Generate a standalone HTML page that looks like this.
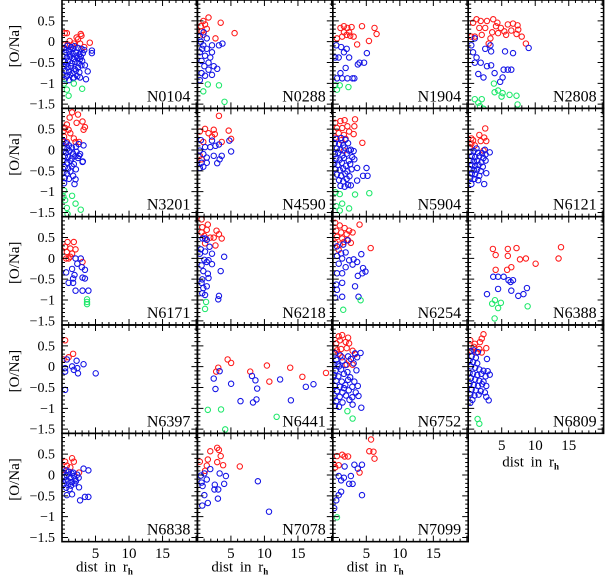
<!DOCTYPE html>
<html><head><meta charset="utf-8"><style>
html,body{margin:0;padding:0;background:#fff;}
svg{display:block;}
text{font-family:"Liberation Serif",serif;fill:#000;}
</style></head><body>
<svg id="chart" width="605" height="581" viewBox="0 0 605 581" xmlns="http://www.w3.org/2000/svg"></svg>
<script>
// ---- data: [dist in r_h, [O/Na]] per cluster, split into red / blue / green groups ----
const clusterNames = ["N0104","N0288","N1904","N2808","N3201","N4590","N5904","N6121","N6171","N6218","N6254","N6388","N6397","N6441","N6752","N6809","N6838","N7078","N7099"];
const xTicks = [5,10,15];
const yTicks = [0.5,0,-0.5,-1,-1.5];
const yTickLabels = ["0.5","0","\u22120.5","\u22121","\u22121.5"];

const n0104_red = [[0.4,0.24],[0.7,0.24],[2.7,0.22],[2.8,0.18],[2.1,0.14],[1.1,0.06],[0.4,-0.02],[1.7,0],[2.6,0],[4,0.02],[3.2,-0.08],[1.45,-0.04],[0.8,-0.02],[2.3,0.1]];
const n0104_blue = [[0.3,-0.1],[0.8,-0.05],[1.3,-0.08],[1.8,-0.06],[2.3,-0.1],[2.8,-0.12],[3.2,-0.15],[0.5,-0.2],[1,-0.18],[1.5,-0.22],[2,-0.2],[2.5,-0.25],[3,-0.22],[0.2,-0.3],[0.7,-0.32],[1.2,-0.3],[1.7,-0.35],[2.2,-0.33],[2.7,-0.3],[0.4,-0.42],[0.9,-0.4],[1.4,-0.45],[1.9,-0.42],[2.4,-0.45],[2.9,-0.4],[0.3,-0.52],[0.8,-0.55],[1.3,-0.52],[1.8,-0.58],[2.3,-0.55],[2.8,-0.5],[3.3,-0.5],[0.5,-0.63],[1,-0.65],[1.5,-0.68],[2,-0.62],[2.5,-0.66],[0.2,-0.72],[0.7,-0.75],[1.2,-0.72],[1.7,-0.78],[2.2,-0.75],[0.4,-0.82],[1,-0.84],[1.6,-0.8],[2.6,-0.78],[4.3,-0.16],[4.3,-0.22],[3.7,-0.64],[3.45,-0.82],[0.6,-0.15],[1.1,-0.25],[2.1,-0.28],[1.6,-0.12],[0.6,-0.48],[2.6,-0.36]];
const n0104_green = [[0.3,-0.92],[1.7,-0.92],[0.7,-1.06],[0.95,-1.2],[2.9,-1.04]];

const n0288_red = [[1.6,0.6],[0.85,0.52],[1.1,0.44],[3.35,0.48],[5.35,0.24],[1.35,0.34],[0.6,0.28],[0.85,0.2],[2.6,0.12],[0.5,0.4]];
const n0288_blue = [[0.9,0.26],[0.35,0.16],[1.35,0.12],[0.85,-0.04],[2.1,-0.04],[3.1,-0.04],[3.6,0],[0.35,-0.2],[1.1,-0.28],[1.85,-0.32],[0.6,-0.4],[1.6,-0.44],[2.35,-0.52],[2.85,-0.58],[0.6,-0.68],[1.1,-0.74],[0.35,-0.84],[2.1,-0.72],[1.35,-0.12],[0.5,0.04],[1.0,-0.52],[1.6,-0.6],[0.7,-0.12],[2.1,-0.2]];
const n0288_green = [[1.5,-0.94],[3.1,-0.96],[0.85,-1.1],[3.9,-1.34]];

const n1904_red = [[1.1,0.36],[1.6,0.4],[2.1,0.36],[2.7,0.38],[4.2,0.4],[6,0.36],[6.3,0.22],[0.6,0.12],[1.35,0.16],[2,0.2],[2.5,0.18],[3,0.16],[3.5,-0.02],[5.2,0.06],[1.6,0.26],[2.35,0.26]];
const n1904_blue = [[0.5,-0.04],[1.2,-0.08],[2,-0.12],[0.35,-0.32],[0.85,-0.32],[2.35,-0.32],[1.6,-0.2],[4.9,-0.22],[1.85,-0.56],[1.1,-0.68],[3.6,-0.48],[3.85,-0.44],[4.5,-0.44],[0.6,-0.8],[1.35,-0.8],[2.1,-0.8],[2.85,-0.8],[3.1,-0.8]];
const n1904_green = [[0.35,-0.96],[1,-0.96],[0.6,-1.06],[2.25,-1]];

const n2808_red = [[1.2,0.56],[1.8,0.52],[0.7,0.48],[2.7,0.52],[3.6,0.56],[4.2,0.48],[5.7,0.44],[6.45,0.46],[7.1,0.42],[4.7,0.36],[5.2,0.28],[6.2,0.3],[6.95,0.22],[7.7,0.16],[3.45,0.26],[2.45,0.36],[1.6,0.36],[1.95,0.2],[0.95,0.16],[0.45,0.16],[3.2,0.12],[4.3,0.24],[8.3,0],[2.95,0],[4,0.4],[5.45,0.2],[7.2,0.32]];
const n2808_blue = [[0.95,0.12],[0.45,-0.04],[0.7,-0.2],[1.2,-0.32],[1.8,-0.44],[2.45,-0.12],[3.2,-0.04],[3.3,-0.18],[2.7,-0.52],[3.3,-0.5],[1.45,-0.7],[2.2,-0.78],[3.8,-0.68],[5.3,-0.18],[6.45,-0.22],[8.7,-0.1],[5.1,-0.6],[5.7,-0.6],[6.2,-0.6],[4.95,-0.78],[4.6,-0.88],[0.95,-0.44]];
const n2808_green = [[3.7,-0.92],[3.8,-1.12],[4.3,-1.08],[4.95,-1.14],[5.95,-1.18],[6.95,-1.2],[4.8,-1.22],[0.95,-1.28],[1.95,-1.28],[1.45,-1.36],[1.7,-1.44],[2.2,-1.5],[7.1,-1.4]];

const n3201_red = [[1.45,0.91],[2.3,0.86],[1.1,0.79],[2.1,0.67],[2.95,0.7],[3.3,0.57],[3.1,0.51],[0.7,0.63],[0.45,0.55],[0.95,0.51],[1.2,0.43],[0.3,0.35],[1.7,0.31],[1.95,0.23],[0.7,0.23],[2.45,0.23],[0.2,0.47]];
const n3201_blue = [[0.2,0.25],[0.6,0.2],[1,0.15],[0.3,0.1],[0.8,0.08],[1.4,0.1],[2,0.12],[2.4,0.18],[0.2,0],[0.6,-0.02],[1.1,0.02],[1.6,-0.04],[2.1,0],[2.6,-0.05],[0.4,-0.1],[0.9,-0.12],[1.4,-0.15],[1.9,-0.1],[2.3,-0.14],[3,-0.22],[0.2,-0.22],[0.7,-0.25],[1.2,-0.2],[1.7,-0.28],[0.4,-0.35],[0.9,-0.38],[1.4,-0.33],[2,-0.4],[0.2,-0.48],[0.7,-0.5],[1.2,-0.45],[1.6,-0.55],[0.4,-0.6],[1,-0.62],[1.95,-0.63],[1.8,-0.74],[0.3,-0.72],[2.45,-0.09],[3.1,0.15],[2.95,-0.23]];
const n3201_green = [[0.3,-0.89],[1.45,-1.01],[0.45,-1.11],[1.95,-1.19],[2.7,-1.33],[0.7,-1.29],[0.8,-1.43],[0.2,-1.03]];

const n4590_red = [[3.1,0.83],[0.35,0.47],[1.1,0.53],[1.6,0.43],[2.35,0.51],[2.5,0.41],[4.5,0.49],[4.85,0.3],[2.1,0.35],[0.85,0.23],[3.5,0.23],[0.6,-0.17],[0.35,-0.09]];
const n4590_blue = [[0.5,0.27],[2.1,0.26],[4.6,0.26],[1.1,0.11],[1.85,0.11],[2.6,0.14],[3.1,0.17],[0.35,0.03],[0.85,-0.05],[1.35,-0.13],[2.35,-0.09],[3.5,-0.09],[4.85,0.01],[0.6,-0.25],[1.35,-0.25],[2.85,-0.26],[3.2,-0.17],[0.35,-0.37],[0.85,-0.34]];
const n4590_green = [];

const n5904_red = [[0.35,0.67],[1.1,0.71],[1.7,0.73],[3.2,0.75],[3.1,0.59],[3,0.41],[4.25,0.21],[0.6,0.55],[1.35,0.55],[2.1,0.59],[0.85,0.43],[1.6,0.39],[2.35,0.47],[0.35,0.33],[1.2,0.27],[1.85,0.3],[1.6,0.03]];
const n5904_blue = [[0.5,0.3],[1.2,0.32],[1.8,0.28],[0.3,0.2],[0.9,0.18],[1.5,0.15],[2.2,0.2],[0.6,0.08],[1.1,0.05],[1.7,0.1],[2.6,0.05],[0.3,-0.05],[0.8,-0.02],[1.4,-0.08],[2,-0.04],[3,0.02],[0.5,-0.15],[1,-0.18],[1.6,-0.14],[2.3,-0.2],[2.8,-0.12],[0.2,-0.27],[0.7,-0.3],[1.3,-0.25],[1.9,-0.32],[2.5,-0.28],[0.4,-0.4],[1,-0.42],[1.5,-0.38],[2.1,-0.45],[2.7,-0.4],[0.6,-0.52],[1.2,-0.55],[1.8,-0.5],[2.4,-0.56],[0.9,-0.65],[1.5,-0.68],[2,-0.62],[1.1,-0.78],[1.7,-0.8],[2.2,-0.76],[3.5,-0.37],[4.85,-0.37],[5,-0.55],[4.35,-0.55],[3.5,-0.66],[2.6,-0.77],[3.1,-0.17],[2.35,0.03]];
const n5904_green = [[0.4,-0.93],[1,-0.97],[3.2,-0.98],[5.25,-0.95],[0.5,-1.25],[1.35,-1.19],[2.35,-1.3],[1,-1.35]];

const n6121_red = [[0.45,0.31],[0.7,0.27],[0.45,0.19],[0.95,0.15],[1.6,0.39],[2.3,0.33],[2.6,0.25],[1.8,0.25],[2.45,0.54],[2.2,0.03],[0.2,0.11]];
const n6121_blue = [[0.3,0],[0.8,0.02],[1.4,-0.02],[2,-0.03],[2.5,-0.06],[0.5,-0.1],[1,-0.12],[1.6,-0.1],[2.2,-0.14],[0.3,-0.2],[0.8,-0.22],[1.3,-0.2],[1.9,-0.24],[2.5,-0.2],[0.5,-0.3],[1,-0.32],[1.5,-0.3],[2.1,-0.34],[0.3,-0.4],[0.8,-0.42],[1.3,-0.4],[1.8,-0.44],[0.5,-0.5],[1,-0.52],[1.6,-0.55],[0.3,-0.6],[0.9,-0.62],[3.1,-0.01],[2.6,-0.49],[2.3,-0.74],[0.45,-0.74],[1.45,-0.65],[2.4,0.05],[1.2,0.08]];
const n6121_green = [];

const n6171_red = [[0.8,0.42],[1.7,0.42],[0.45,0.31],[1.2,0.27],[1.95,0.25],[0.7,0.19],[1.45,0.15],[0.95,0.04],[2.95,-0.04],[0.6,0.04],[1.2,0.08]];
const n6171_blue = [[1.95,0.04],[2.7,0.04],[2.2,-0.08],[2.85,-0.16],[3.3,-0.22],[1.45,-0.2],[0.6,-0.28],[1.8,-0.34],[1.6,-0.42],[2.95,-0.4],[3.3,-0.42],[0.95,-0.52],[1.6,-0.52],[1.95,-0.7],[2.95,-0.7],[3.8,-0.7]];
const n6171_green = [[3.6,-0.9],[3.6,-0.96],[3.6,-1.01]];

const n6218_red = [[0.6,0.94],[1.5,0.82],[0.7,0.76],[1.35,0.7],[0.6,0.64],[2.75,0.68],[3.1,0.6],[3.5,0.5],[1,0.56],[1.85,0.52],[2.35,0.52],[2.6,0.34],[1.1,0.39]];
const n6218_blue = [[0.75,0.5],[1.1,0.5],[1.35,0.47],[1.75,0.31],[0.5,0.25],[1.1,0.2],[3.85,0.08],[1,0.01],[1.6,0],[1.35,-0.04],[2.1,-0.09],[0.6,-0.12],[0.85,-0.25],[3.35,-0.25],[1.5,-0.31],[0.7,-0.44],[1.6,-0.41],[0.6,-0.52],[0.85,-0.64],[1.35,-0.6],[1.1,-0.8],[0.7,-0.76],[3.1,-0.82],[3,-0.9],[2.1,0.15],[0.35,0.15]];
const n6218_green = [[1.25,-0.96],[1.1,-1.12]];

const n6254_red = [[0.35,0.86],[1,0.8],[1.7,0.74],[2.35,0.68],[2.85,0.64],[3.85,0.82],[0.5,0.68],[1.2,0.64],[2,0.6],[0.6,0.54],[1.35,0.5],[2.2,0.46],[0.35,0.4],[1,0.36],[2.6,0.4],[5.45,0.28],[1.6,0.42],[0.85,0.24]];
const n6254_blue = [[0.6,0.32],[1.5,0.36],[2.1,0.46],[1.2,0.16],[1.85,0.18],[4.1,0.14],[0.6,0.1],[1.35,0.04],[2.35,0],[3,0.02],[3.5,-0.04],[0.85,-0.08],[1.85,-0.16],[4.35,-0.18],[4.7,-0.26],[4.25,-0.3],[0.6,-0.3],[1.35,-0.3],[3.6,-0.36],[1.35,-0.52],[0.5,-0.56],[3.2,-0.6],[0.6,-0.68],[0.35,-0.86],[1.35,-0.84],[3.7,-0.84],[2.85,-0.1]];
const n6254_green = [[4,-0.92],[1.5,-1.14]];

const n6388_red = [[3.55,0.26],[3.95,0.12],[5.7,0.26],[5.7,0.1],[6.95,0.28],[7.45,0.02],[8.3,0.04],[9.7,-0.08],[13.35,0.3],[13,0.04],[3.95,-0.22],[5.6,-0.22],[6.2,-0.16]];
const n6388_blue = [[3.6,-0.38],[4.3,-0.38],[5.1,-0.38],[5.8,-0.46],[6.45,-0.46],[6.2,-0.7],[4.3,-0.66],[2.7,-0.78],[7.2,-0.82],[7.95,-0.78],[8.45,-0.64],[6.1,-0.5]];
const n6388_green = [[3.85,-0.92],[3.45,-1],[4.3,-1.1],[4.7,-0.98],[8.55,-1.06],[3.8,-1.34]];

const n6397_red = [[0.45,0.65],[1.6,0.34],[0.95,0.26],[0.2,0.21]];
const n6397_blue = [[0.7,0.21],[2.1,0.18],[3.1,0.1],[1.45,0.05],[0.45,0.01],[1.7,-0.03],[2.2,0.01],[2.3,-0.11],[0.45,-0.07],[4.85,-0.11],[0.45,-0.49]];
const n6397_green = [];

const n6441_red = [[4.35,0.21],[4.85,0.13],[3,0.02],[2.7,-0.07],[7.6,-0.07],[10,0.07],[13.35,0.02],[10.35,-0.3],[15.1,-0.19],[18.5,-0.1]];
const n6441_blue = [[3.2,-0.06],[2.35,-0.23],[7.85,-0.17],[8.35,-0.27],[8.6,-0.46],[11.9,-0.25],[4.85,-0.35],[2.6,-0.47],[15.6,-0.42],[16.7,-0.36],[6.2,-0.75],[8,-0.78],[8.5,-0.71],[13.45,-0.73]];
const n6441_green = [[1.5,-0.95],[3.4,-0.94],[11.4,-1.11],[4,-1.4]];

const n6752_red = [[0.85,0.74],[1.35,0.77],[2.2,0.71],[0.5,0.58],[1,0.65],[1.85,0.61],[2.35,0.58],[0.6,0.42],[1.2,0.45],[2,0.47],[2.85,0.41],[3.2,0.33],[0.35,0.47],[1.35,0.26],[2.35,0.17],[2.85,0.09],[2,0.09],[0.85,0.34]];
const n6752_blue = [[0.3,0.35],[1.1,0.3],[2.2,0.28],[3.2,0.35],[0.5,0.2],[1.4,0.18],[2.6,0.22],[0.2,0.1],[0.9,0.05],[1.8,0.08],[3,0.12],[0.4,-0.05],[1.2,-0.02],[2.1,-0.08],[3.4,-0.04],[0.2,-0.15],[0.8,-0.18],[1.6,-0.12],[2.5,-0.2],[0.5,-0.28],[1.3,-0.3],[2.2,-0.26],[3.1,-0.3],[0.3,-0.4],[1,-0.42],[1.8,-0.38],[2.8,-0.42],[3.6,-0.4],[0.6,-0.52],[1.4,-0.55],[2.3,-0.5],[3.3,-0.55],[0.2,-0.62],[1,-0.65],[1.9,-0.62],[2.8,-0.66],[0.5,-0.75],[1.4,-0.78],[2.4,-0.72],[0.3,-0.86],[4,0.36],[3.5,0.26],[3.7,-0.63],[4.1,-0.9],[2.85,-0.83],[0.7,0.1],[1.6,-0.45],[0.9,-0.88]];
const n6752_green = [[2.1,-0.98],[2.85,-1.15]];

const n6809_red = [[2.2,0.79],[1.95,0.69],[0.3,0.65],[0.95,0.57],[1.7,0.61],[2.6,0.47],[1.6,0.45],[1.2,0.37],[1.95,0.37],[0.45,0.41],[0.8,0.5]];
const n6809_blue = [[0.3,0.4],[0.8,0.42],[1.4,0.38],[0.5,0.28],[1.1,0.25],[0.2,0.18],[0.7,0.15],[1.3,0.12],[0.4,0.05],[1,0.02],[1.6,-0.02],[2.2,-0.05],[2.8,-0.06],[0.2,-0.1],[0.7,-0.12],[1.3,-0.15],[1.9,-0.12],[2.5,-0.18],[0.4,-0.22],[1,-0.25],[1.6,-0.28],[2.2,-0.3],[0.2,-0.35],[0.8,-0.38],[1.4,-0.4],[2,-0.36],[2.6,-0.4],[0.5,-0.48],[1.1,-0.5],[1.8,-0.52],[2.4,-0.55],[0.3,-0.6],[0.9,-0.62],[1.5,-0.6],[2.6,-0.65],[0.6,-0.72],[2.7,0.22],[3.1,-0.14],[2.95,-0.73],[0.3,-0.79]];
const n6809_green = [[1.35,-1.16],[1.6,-1.27]];

const n6838_red = [[0.45,0.35],[1.45,0.43],[1.7,0.35],[0.7,0.26],[0.2,0.16],[2.45,0.1],[1.2,0.22]];
const n6838_blue = [[0.2,0.1],[0.6,0.15],[1,0.12],[1.4,0.08],[0.3,0],[0.7,0.04],[1.2,-0.02],[1.7,0.02],[2.2,0.05],[0.5,-0.08],[0.9,-0.1],[1.4,-0.12],[1.9,-0.06],[2.4,-0.02],[0.3,-0.15],[0.8,-0.18],[1.3,-0.2],[1.8,-0.15],[0.6,-0.25],[1.1,-0.28],[3.1,0.19],[3.8,0.15],[2.45,-0.24],[1.45,-0.4],[0.7,-0.42],[2.6,-0.54],[3.3,-0.46],[3.8,-0.46],[2,-0.1],[1.6,0.1]];
const n6838_green = [];

const n7078_red = [[2.85,0.67],[3.1,0.62],[1.85,0.59],[0.35,0.35],[1.5,0.4],[3.35,0.48],[2.85,0.34],[3.7,0.27],[1.35,0.26],[1.1,0.14],[6.1,0.24]];
const n7078_blue = [[0.5,0.03],[1,0.08],[1.85,0.18],[3.2,0.08],[4.1,0.02],[0.6,-0.13],[1.35,-0.06],[0.75,-0.21],[2.5,-0.18],[3,-0.29],[2.45,-0.29],[3.85,-0.16],[1,-0.42],[2.95,-0.5],[1.5,-0.6],[0.7,-0.66],[8.7,-0.1],[10.3,-0.8]];
const n7078_green = [];

const n7099_red = [[5.5,0.86],[0.6,0.48],[1.35,0.51],[1.7,0.47],[2.2,0.47],[5.25,0.59],[5.85,0.58],[6,0.42],[0.35,0.22],[0.85,0.27],[3.85,0.1],[0.1,0.3]];
const n7099_blue = [[1.7,0.24],[3.1,0.28],[4.2,0.28],[3.6,0.19],[0.85,0.02],[1.6,-0.02],[2.6,0.02],[1.2,-0.08],[2.35,-0.16],[2.85,-0.16],[1.2,-0.34],[0.85,-0.42],[4.2,-0.42],[0.5,-0.54],[0.2,-0.72]];
const n7099_green = [[0.6,-0.93]];

const redSets = [n0104_red,n0288_red,n1904_red,n2808_red,n3201_red,n4590_red,n5904_red,n6121_red,n6171_red,n6218_red,n6254_red,n6388_red,n6397_red,n6441_red,n6752_red,n6809_red,n6838_red,n7078_red,n7099_red];
const blueSets = [n0104_blue,n0288_blue,n1904_blue,n2808_blue,n3201_blue,n4590_blue,n5904_blue,n6121_blue,n6171_blue,n6218_blue,n6254_blue,n6388_blue,n6397_blue,n6441_blue,n6752_blue,n6809_blue,n6838_blue,n7078_blue,n7099_blue];
const greenSets = [n0104_green,n0288_green,n1904_green,n2808_green,n3201_green,n4590_green,n5904_green,n6121_green,n6171_green,n6218_green,n6254_green,n6388_green,n6397_green,n6441_green,n6752_green,n6809_green,n6838_green,n7078_green,n7099_green];

// ---- layout ----
const NS = "http://www.w3.org/2000/svg";
const svg = document.getElementById("chart");
const X0 = 62, PW = 135.4, PH = 108.33;
const XMIN = 0, XMAX = 20.2, YMIN = -1.6, YMAX = 1.0;
// readings were taken from a slightly downscaled crop; calibrate to true axis units
const calX = v => v * 1.037;
const calY = v => v * 1.043 - 0.046;

function mk(tag, attrs, parent) {
  const e = document.createElementNS(NS, tag);
  for (const k in attrs) e.setAttribute(k, attrs[k]);
  (parent || svg).appendChild(e);
  return e;
}
function panelBox(i) { const c = i % 4, r = Math.floor(i / 4); return { c, r, left: X0 + c * PW, top: r * PH }; }

clusterNames.forEach((name, i) => {
  const b = panelBox(i);
  const sx = v => b.left + (v - XMIN) / (XMAX - XMIN) * PW;
  const sy = v => b.top + (YMAX - v) / (YMAX - YMIN) * PH;
  const g = mk("g", {});
  
  

  const clipId = "clip" + i;
  const cp = mk("clipPath", { id: clipId }, g);
  mk("rect", { x: b.left, y: b.top, width: PW, height: PH }, cp);
  const marks = mk("g", { "clip-path": "url(#" + clipId + ")" }, g);

  const groups = [[redSets[i], "#ff1a1a", "red"], [blueSets[i], "#1414e6", "blue"], [greenSets[i], "#1de86a", "green"]];
  groups.forEach(([arr, col, nm]) => {
    arr.forEach(p => {
      const c = mk("circle", { cx: sx(calX(p[0])).toFixed(2), cy: sy(calY(p[1])).toFixed(2), r: 2.7, fill: "none", stroke: col, "stroke-width": 1.05 }, marks);
      
      
    });
  });

  // ticks
  let d = "";
  for (let v = 1; v <= 20; v++) {
    const x = sx(v), L = (v % 5 === 0) ? 6 : 3;
    d += `M${x},${b.top}v${L}M${x},${b.top + PH}v${-L}`;
  }
  for (let k = -16; k <= 10; k++) {
    const v = k / 10, y = sy(v), L = (k % 5 === 0) ? 6 : 3;
    d += `M${b.left},${y}h${L}M${b.left + PW},${y}h${-L}`;
  }
  mk("path", { d, stroke: "#000", "stroke-width": 1, fill: "none" }, g);
  const fr = mk("rect", { x: b.left, y: b.top, width: PW, height: PH, fill: "none", stroke: "#000", "stroke-width": 1.6 }, g);
  
  

  const lbl = mk("text", { x: b.left + PW - 7, y: b.top + PH - 7, "text-anchor": "end", "font-size": 16 }, g);
  lbl.textContent = name;
  
  

  if (b.c === 0) {
    yTicks.forEach((v, k) => {
      const t = mk("text", { x: 55, y: sy(v) + 4.5, "text-anchor": "end", "font-size": 14 }, g);
      t.textContent = yTickLabels[k];
      
      
    });
    const yt = mk("text", { x: 0, y: 0, "text-anchor": "middle", "font-size": 15, transform: `translate(19,${b.top + PH / 2 - 8}) rotate(-90)` }, g);
    yt.textContent = "[O/Na]";
    
    
  }
  const isBottom = (i + 4 >= clusterNames.length);
  if (isBottom) {
    const base = b.top + PH;
    xTicks.forEach(v => {
      const t = mk("text", { x: sx(v), y: base + 16.5, "text-anchor": "middle", "font-size": 15 }, g);
      t.textContent = String(v);
      
      
    });
    const startX = b.c === 3 ? b.left + 34 : b.left + 14;
    const baseY = b.c === 3 ? base + 33 : base + 30;
    const xt = mk("text", { x: startX, y: baseY, "font-size": 15, "word-spacing": 3 }, g);
    
    
    xt.appendChild(document.createTextNode("dist in r"));
    const sub = mk("tspan", { "font-size": 9, "font-weight": "bold", dy: 3 }, xt);
    sub.textContent = "h";
  }
});
</script>
</body></html>
